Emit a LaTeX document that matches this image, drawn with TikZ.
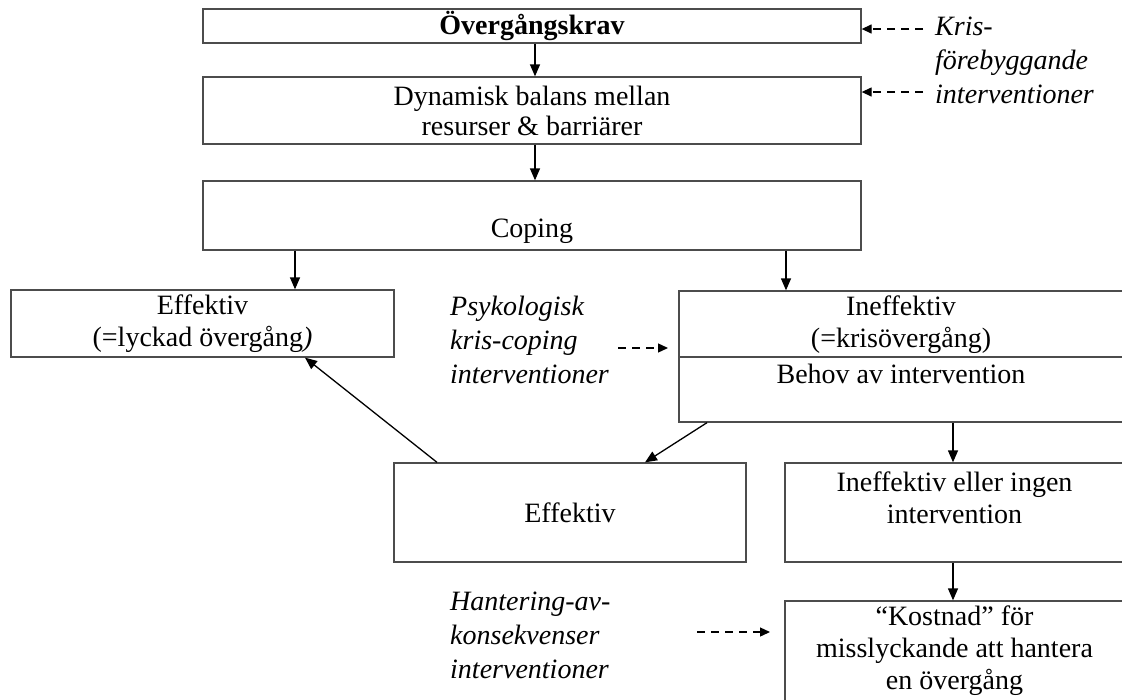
\documentclass[tikz,border=0pt]{standalone}
\usepackage{fontspec}
\setmainfont{Liberation Serif}
\usetikzlibrary{arrows.meta}

\begin{document}
\begin{tikzpicture}[x=1pt,y=-1pt,
	box/.style={draw=black!70,line width=1.3pt,inner sep=0pt,align=center,font=\fontsize{28}{32}\selectfont},
	txt/.style={inner sep=0pt,align=center,font=\fontsize{28}{32}\selectfont},
	itxt/.style={inner sep=0pt,align=left,anchor=west,font=\fontsize{28}{34}\selectfont\itshape},
	pil/.style={-{Triangle[length=12pt,width=10pt]},line width=1.3pt},
	streck/.style={-{Triangle[length=10pt,width=9pt]},line width=1.3pt,dash pattern=on 8pt off 6pt}]
	\useasboundingbox (0,0) rectangle (1122,699);
	\clip (0,0) rectangle (1122,699);
	% rutor
	\node[box,minimum width=658pt,minimum height=34pt] (krav) at (532,26) {\bfseries Övergångskrav};
	\node[box,minimum width=658pt,minimum height=67pt,font=\fontsize{28}{30}\selectfont] (balans) at (532,110.5) {Dynamisk balans mellan\\resurser \& barriärer};
	\node[box,minimum width=658pt,minimum height=69pt] (coping) at (532,215.5) {};
	\node[txt] (copingtxt) at (532,231.5) {Coping};
	\node[box,minimum width=383pt,minimum height=67pt] (effL) at (202.5,323.5) {Effektiv\\(=lyckad övergång\textit{)}};
	\node[box,minimum width=445pt,minimum height=131pt] (ineff) at (901.5,356.5) {};
	\node[txt] (inefftxt) at (901,325) {Ineffektiv\\(=krisövergång)};
	\draw[draw=black!70,line width=1.3pt] (ineff.west |- 0,357) -- (ineff.east |- 0,357);
	\node[txt] (behov) at (901,374) {Behov av intervention};
	\node[box,minimum width=352pt,minimum height=99pt] (effM) at (570,512.5) {Effektiv};
	\node[box,minimum width=339pt,minimum height=99pt] (ingen) at (954.5,512.5) {};
	\node[txt] (ingentxt) at (954.5,498) {Ineffektiv eller ingen\\intervention};
	\node[box,minimum width=339pt,minimum height=109pt] (kostnad) at (954.5,655.5) {};
	\node[txt] (kostnadtxt) at (954.5,651) {``Kostnad'' för\\misslyckande att hantera\\en övergång};
	% interventioner
	\node[itxt] (kris) at (935,60) {Kris-\\förebyggande\\interventioner};
	\node[itxt] (psyk) at (450,340) {Psykologisk\\kris-coping\\interventioner};
	\node[itxt] (hant) at (450,635) {Hantering-av-\\konsekvenser\\interventioner};
	\coordinate (k1) at (923,29);
	\coordinate (k2) at (923,92);
	\coordinate (p1) at (618,348);
	\coordinate (p2) at (668,348);
	\coordinate (h1) at (697,632);
	\coordinate (h2) at (770,632);
	% pilar
	\draw[pil] ([xshift=3pt]krav.south) -- ([xshift=3pt]balans.north);
	\draw[pil] ([xshift=3pt]balans.south) -- ([xshift=3pt]coping.north);
	\draw[pil] (coping.south -| 295,0) -- (effL.north -| 295,0);
	\draw[pil] (coping.south -| 786,0) -- (ineff.north -| 786,0);
	\draw[pil] (ineff.south -| 707,0) -- (effM.north -| 645,0);
	\draw[pil] (effM.north -| 437,0) -- (effL.south -| 305,0);
	\draw[pil] (ineff.south -| 953,0) -- (ingen.north -| 953,0);
	\draw[pil] (ingen.south -| 953,0) -- (kostnad.north -| 953,0);
	\draw[streck] (k1) -- (krav.east |- k1);
	\draw[streck] (k2) -- (balans.east |- k2);
	\draw[streck] (p1) -- (p2);
	\draw[streck] (h1) -- (h2);
\end{tikzpicture}
\end{document}
